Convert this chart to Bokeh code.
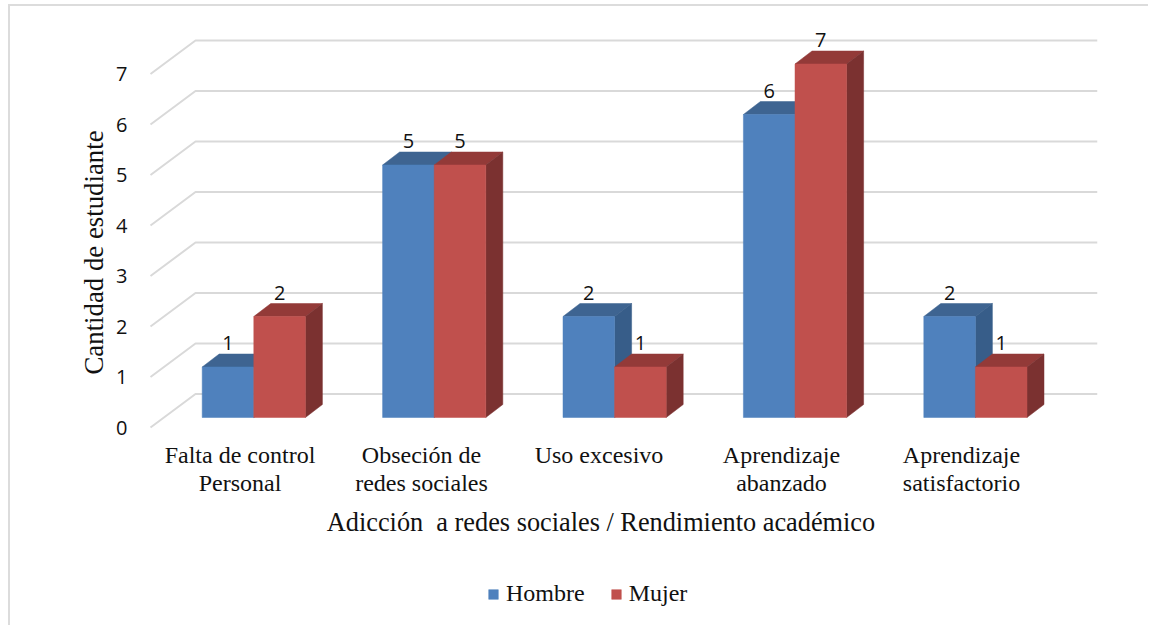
from bokeh.plotting import figure
from bokeh.models import FixedTicker, Label, Legend, LegendItem, Range1d
from bokeh.core.properties import value
from bokeh.embed import file_html
from bokeh.resources import INLINE
import math

categories = ["Falta de control\nPersonal", "Obseción de\nredes sociales", "Uso excesivo",
              "Aprendizaje\nabanzado", "Aprendizaje\nsatisfactorio"]
hombre = [1, 5, 2, 6, 2]
mujer = [2, 5, 1, 7, 1]
y_ticks = [0, 1, 2, 3, 4, 5, 6, 7]
series_names = ["Hombre", "Mujer"]
x_title = "Adicción\u00a0 a redes sociales / Rendimiento académico"
y_title = "Cantidad de estudiante"

PX_X = 180.4
PX_Y = 50.5
OX, OY = 10, 6
F_LEFT, F_RIGHT, F_TOP, F_BOTTOM = 10, 1097, 20, 627
WALL_LEFT = 150
ZERO_Y = 427
ORIGIN = 253.3

SERIF = "Liberation Serif"
SANS = "Open Sans"
INK = "#111111"
GRID = "#d9d9d9"
COLORS = {"Hombre": ("#4f81bd", "#3e6491", "#375d89"),
          "Mujer": ("#c0504d", "#933a38", "#7b3130")}

bar_w = 51.6 / PX_X
depth_x = 17 / PX_X
depth_y = 13 / PX_Y
floor = 10 / PX_Y
wall_x = 45 / PX_X
wall_y = 33.5 / PX_Y

p = figure(width=1150 - OX, height=627 - OY, output_backend="svg", toolbar_location=None,
           x_range=Range1d((F_LEFT - ORIGIN) / PX_X, (F_RIGHT - ORIGIN) / PX_X),
           y_range=Range1d((ZERO_Y - F_BOTTOM) / PX_Y, (ZERO_Y - F_TOP) / PX_Y),
           min_border_left=F_LEFT - OX, min_border_right=1150 - F_RIGHT,
           min_border_top=F_TOP - OY, min_border_bottom=0,
           background_fill_color="white", border_fill_color="white",
           outline_line_color=None,
           styles={"margin-left": "8px", "margin-top": "4px",
                   "border-top": "2px solid #dcdcdc", "border-left": "2px solid #dcdcdc"})
p.grid.visible = False

x0 = (WALL_LEFT - ORIGIN) / PX_X
x1 = p.x_range.end
for t in y_ticks:
    p.line([x0, x0 + wall_x, x1], [t, t + wall_y, t + wall_y], line_color=GRID, line_width=2)

item_renderers = {}
for i in range(len(categories)):
    for j, (name, vals) in enumerate(zip(series_names, (hombre, mujer))):
        front, top, side = COLORS[name]
        l = i + (j - 1) * bar_w
        r = l + bar_w
        h = floor + vals[i]
        p.patch([l, l + depth_x, r + depth_x, r], [h, h + depth_y, h + depth_y, h],
                fill_color=top, line_color=top, line_width=0.5)
        p.patch([r, r + depth_x, r + depth_x, r], [floor, floor + depth_y, h + depth_y, h],
                fill_color=side, line_color=side, line_width=0.5)
        rend = p.vbar(x=[l + bar_w / 2], top=[h], bottom=[floor], width=bar_w,
                      fill_color=front, line_color=front, line_width=0.5)
        item_renderers.setdefault(name, rend)
        p.text(x=[l + bar_w / 2], y=[h + 24 / PX_Y], text=[str(vals[i])],
               text_font=value(SANS), text_font_size="20px", text_color=INK,
               text_align="center", text_baseline="middle")

# Category labels sit slightly left of their groups in the reference.
label_px = [239.5, 421, 598.5, 781, 961]
p.xaxis.fixed_location = 0
p.xaxis.ticker = FixedTicker(ticks=[(x - ORIGIN) / PX_X for x in label_px])
p.xaxis.major_label_overrides = {(x - ORIGIN) / PX_X: c for x, c in zip(label_px, categories)}
p.xaxis.major_label_text_font = SERIF
p.xaxis.major_label_text_font_size = "24px"
p.xaxis.major_label_text_line_height = 1.1
p.xaxis.major_label_text_color = INK
p.xaxis.major_label_standoff = 8
p.xaxis.axis_line_color = None
p.xaxis.major_tick_line_color = None
p.xaxis.minor_tick_line_color = None

p.yaxis.fixed_location = x0
p.yaxis.ticker = FixedTicker(ticks=y_ticks)
p.yaxis.major_label_text_font = SANS
p.yaxis.major_label_text_font_size = "20px"
p.yaxis.major_label_text_color = INK
p.yaxis.major_label_standoff = 17
p.yaxis.axis_line_color = None
p.yaxis.major_tick_line_color = None
p.yaxis.minor_tick_line_color = None

p.add_layout(Label(x=(93 - ORIGIN) / PX_X, y=(ZERO_Y - 252) / PX_Y, text=y_title, angle=math.pi / 2,
                   text_font=SERIF, text_font_size="26.8px", text_color=INK,
                   text_align="center", text_baseline="middle"))

p.add_layout(Label(x=(600.5 - ORIGIN) / PX_X, y=(ZERO_Y - 522) / PX_Y, text=x_title,
                   text_font=SERIF, text_font_size="26.3px", text_color=INK,
                   text_align="center", text_baseline="middle"))

legend = Legend(items=[LegendItem(label=n, renderers=[item_renderers[n]]) for n in series_names],
                orientation="horizontal", location=(489 - F_LEFT - 2, 20),
                glyph_width=12, glyph_height=12, label_standoff=7, spacing=25,
                padding=2, margin=0, border_line_color=None, background_fill_alpha=0,
                label_text_font=SERIF, label_text_font_size="24px", label_text_color=INK)
p.add_layout(legend, "center")

open("out.html", "w").write(file_html(p, INLINE))
